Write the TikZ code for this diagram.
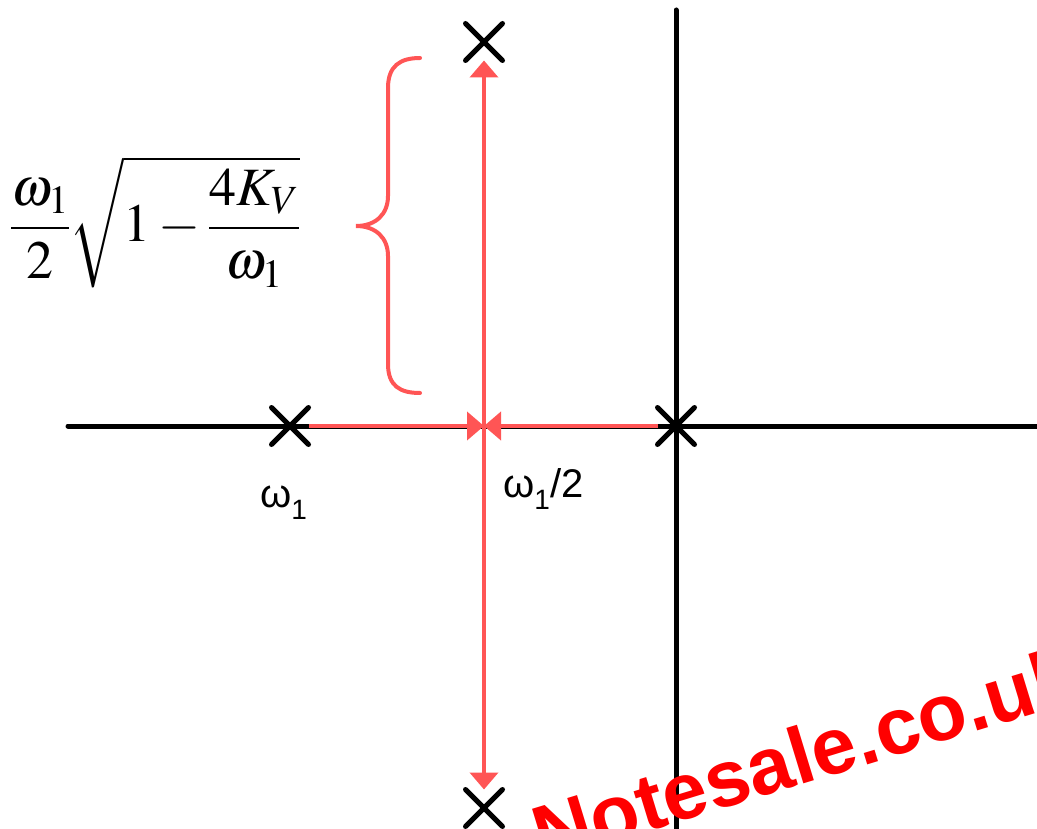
\documentclass[tikz,border=0pt]{standalone}
\usepackage{amsmath}
\usepackage{mathptmx}
\usepackage{fontspec}
\setmainfont{Liberation Serif}
\newfontfamily\rlsans{Liberation Sans}
\usepackage{xcolor}
\definecolor{rlred}{HTML}{FF5555}
\definecolor{rlmark}{HTML}{FF0000}
\usetikzlibrary{arrows.meta,positioning,shapes.misc}
\newcommand{\rlsub}[1]{\raisebox{-0.3em}{\fontsize{28}{30}\selectfont #1}}
\tikzset{
  rlaxis/.style={line width=5pt,line cap=round},
  rlpole/.style={draw,cross out,line width=5pt,line cap=round,minimum size=32pt,inner sep=0pt},
  rlflow/.style={rlred,line width=4pt,-{Triangle[length=17pt,width=28pt]}},
  rlbrace/.style={rlred,line width=4pt,line cap=round},
  rllabel/.style={font=\rlsans\fontsize{40}{44}\selectfont,inner sep=0pt,anchor=base west},
  rlformula/.style={font=\fontsize{54}{60}\selectfont,inner sep=0pt},
  rlmark/.style={font=\rlsans\bfseries\fontsize{80}{90}\selectfont,text=rlmark,inner sep=0pt},
}
\begin{document}
\begin{tikzpicture}[x=1pt,y=-1pt]
\useasboundingbox (0,0) rectangle (1037,829);
\clip (0,0) rectangle (1037,829);
% real and imaginary axes
\coordinate (hl) at (68,426);
\coordinate (hr) at (1045,426);
\coordinate (vt) at (676,10);
\coordinate (vb) at (676,840);
\draw[rlaxis] (hl) -- (hr);
\draw[rlaxis] (vt) -- (vb);
% open and closed loop poles
\node[rlpole] (pw) at (290,426) {};
\node[rlpole] (po) at (676,426) {};
\node[rlpole] (pu) at (484,42) {};
\node[rlpole] (pd) at (484,808) {};
\coordinate (brk) at (484,426);
% root paths
\draw[rlflow] (pw) -- (brk);
\draw[rlflow] (po) -- (brk);
\draw[rlflow] (brk) -- (pu);
\draw[rlflow] (brk) -- (pd);
% brace and its value
\draw[rlbrace] (420,58) .. controls (400,58) and (388,66) .. (388,88) -- (388,196)
  .. controls (388,214) and (376,226) .. (356,226)
  .. controls (376,226) and (388,238) .. (388,256) -- (388,364)
  .. controls (388,386) and (400,393) .. (420,393);
\node[rlformula] (gap) at (155,222) {$\displaystyle\frac{\omega_1}{2}\sqrt{1-\frac{4K_V}{\omega_1}}$};
% axis labels
\node[rllabel] (lw) at (260,507) {ω\rlsub{1}};
\node[rllabel] (lb) at (503,497) {ω\rlsub{1}/2};
% watermark
\node[rlmark,anchor=base west,rotate=17] (mark) at (543,864) {Notesale.co.uk};
\end{tikzpicture}
\end{document}
